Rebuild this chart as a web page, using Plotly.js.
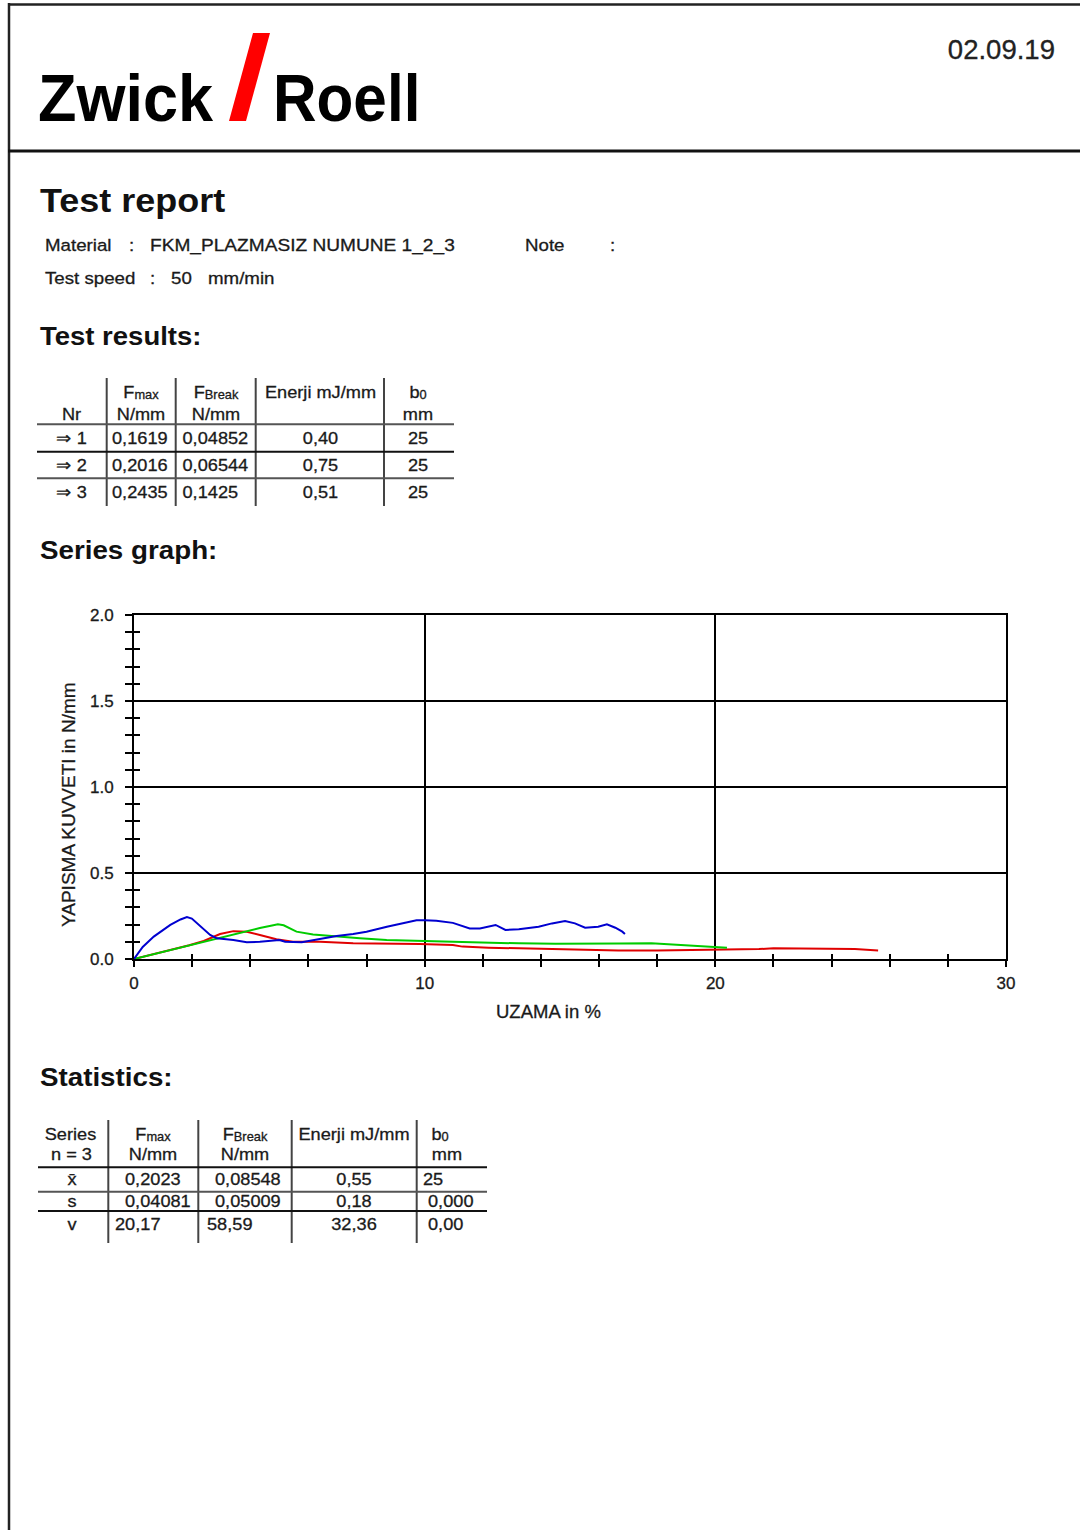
<!DOCTYPE html>
<html>
<head>
<meta charset="utf-8">
<script src="https://cdn.plot.ly/plotly-3.0.1.min.js"></script>
<style>
  html, body { margin: 0; padding: 0; background: #fff; }
  #page { position: relative; width: 1080px; height: 1530px; overflow: hidden; background: #fff; }
  #chart { position: absolute; left: 0; top: 0; width: 1080px; height: 1530px; }
  #overlay { position: absolute; left: 0; top: 0; width: 1080px; height: 1530px; pointer-events: none; }
  #chart .xtick text, #chart .ytick text, #chart .annotation-text { stroke: #1a1a1a; stroke-width: 0.3px; }
</style>
</head>
<body>
<div id="page">
  <div id="chart"></div>
  <svg id="overlay" width="1080" height="1530" xmlns="http://www.w3.org/2000/svg"></svg>
</div>
<script>
// ---------------- DATA ----------------
const reportDate = '02.09.19';
const materialName = 'FKM_PLAZMASIZ NUMUNE 1_2_3';
const testSpeed = '50';
const testSpeedUnit = 'mm/min';

// Test results table
const resultNr     = ['⇒ 1', '⇒ 2', '⇒ 3'];
const resultFmax   = ['0,1619', '0,2016', '0,2435'];
const resultFbreak = ['0,04852', '0,06544', '0,1425'];
const resultEnergy = ['0,40', '0,75', '0,51'];
const resultB0     = ['25', '25', '25'];

// Statistics table
const statLabels = ['x̄', 's', 'v'];
const statFmax   = ['0,2023', '0,04081', '20,17'];
const statFbreak = ['0,08548', '0,05009', '58,59'];
const statEnergy = ['0,55', '0,18', '32,36'];
const statB0     = ['25', '0,000', '0,00'];

// Series graph curves (UZAMA in % vs YAPISMA KUVVETI in N/mm)
const test1Strain = [0, 0.6, 1.25, 1.9, 2.4, 2.96, 3.42, 3.88, 4.33, 4.9, 5.47, 6.4, 7.54, 8.69, 9.83, 10.97, 11.3, 12.2, 13.24, 14.95, 16.0, 16.66, 18.0, 18.94, 19.97, 20.77, 21.5, 22.0, 23.0, 23.95, 24.8, 25.6];
const test1Force  = [0, 0.025, 0.05, 0.08, 0.105, 0.145, 0.162, 0.158, 0.14, 0.115, 0.101, 0.10, 0.091, 0.091, 0.087, 0.081, 0.072, 0.066, 0.062, 0.058, 0.055, 0.049, 0.05, 0.052, 0.052, 0.054, 0.058, 0.062, 0.062, 0.062, 0.058, 0.05];

const test2Strain = [0, 1.25, 2.39, 3.53, 4.33, 4.75, 4.95, 5.15, 5.59, 6.16, 6.97, 7.77, 8.69, 9.83, 10.97, 12.0, 13.24, 14.5, 15.52, 16.7, 17.8, 18.94, 19.97, 20.4];
const test2Force  = [0, 0.052, 0.10, 0.15, 0.18, 0.195, 0.2016, 0.196, 0.159, 0.143, 0.13, 0.12, 0.11, 0.105, 0.097, 0.094, 0.091, 0.089, 0.091, 0.09, 0.091, 0.081, 0.068, 0.066];

const test3Strain = [0, 0.3, 0.68, 1.25, 1.6, 1.82, 1.99, 2.28, 2.62, 2.85, 3.42, 3.88, 4.33, 5.0, 5.2, 5.77, 6.4, 6.97, 7.54, 8.0, 8.7, 9.38, 9.72, 10.0, 10.4, 10.97, 11.55, 11.9, 12.44, 12.78, 13.24, 13.92, 14.38, 14.83, 15.17, 15.52, 15.97, 16.27, 16.56, 16.8, 16.89];
const test3Force  = [0, 0.07, 0.13, 0.198, 0.23, 0.2435, 0.235, 0.19, 0.14, 0.12, 0.11, 0.097, 0.10, 0.11, 0.10, 0.097, 0.115, 0.134, 0.145, 0.159, 0.188, 0.21, 0.225, 0.225, 0.223, 0.21, 0.178, 0.178, 0.198, 0.169, 0.173, 0.188, 0.207, 0.221, 0.207, 0.182, 0.188, 0.202, 0.182, 0.159, 0.145];

const xAxisTitle = 'UZAMA in %';
const yAxisTitle = 'YAPISMA KUVVETI in N/mm';

// ---------------- CHART ----------------
const FONT = '"Liberation Sans", Arial, Helvetica, sans-serif';
const plotL = 134, plotR = 1006, plotT = 615, plotB = 959;
const plotW = plotR - plotL, plotH = plotB - plotT;

const lineStyle = (c) => ({ color: c, width: 2 });
const traces = [
  { x: test1Strain, y: test1Force, mode: 'lines', line: lineStyle('#e00000'), name: '1', hoverinfo: 'skip' },
  { x: test2Strain, y: test2Force, mode: 'lines', line: lineStyle('#00cc00'), name: '2', hoverinfo: 'skip' },
  { x: test3Strain, y: test3Force, mode: 'lines', line: lineStyle('#0000d0'), name: '3', hoverinfo: 'skip' },
  { x: [], y: [], xaxis: 'x2', yaxis: 'y2', mode: 'lines', hoverinfo: 'skip', showlegend: false }
];

const tickFont = { family: FONT, size: 17, color: '#1a1a1a' };
const layout = {
  width: 1080, height: 1530,
  margin: { l: plotL, r: 1080 - plotR, t: plotT, b: 1530 - plotB, pad: 0 },
  paper_bgcolor: 'rgba(0,0,0,0)', plot_bgcolor: 'rgba(0,0,0,0)',
  showlegend: false,
  xaxis: {
    range: [0, 30], tick0: 0, dtick: 10, ticks: 'outside', ticklen: 6, tickwidth: 2, tickcolor: '#000',
    showgrid: true, gridcolor: '#000', gridwidth: 2, zeroline: false,
    showline: true, linecolor: '#000', linewidth: 2, mirror: true,
    tickfont: tickFont, ticklabelstandoff: 2,
    minor: { dtick: 2, tick0: 0, ticks: 'outside', ticklen: 6, tickwidth: 2, tickcolor: '#000', showgrid: false }
  },
  xaxis2: {
    overlaying: 'x', anchor: 'y', side: 'bottom', range: [0, 30], tick0: 0, dtick: 2,
    ticks: 'inside', ticklen: 5, tickwidth: 2, tickcolor: '#000',
    showticklabels: false, showgrid: false, showline: false, zeroline: false
  },
  yaxis: {
    range: [0, 2], tick0: 0, dtick: 0.5, tickformat: '.1f', ticks: 'outside', ticklen: 7, tickwidth: 2, tickcolor: '#000',
    showgrid: true, gridcolor: '#000', gridwidth: 2, zeroline: false,
    showline: true, linecolor: '#000', linewidth: 2, mirror: true,
    tickfont: tickFont, ticklabelstandoff: 8,
    minor: { dtick: 0.1, tick0: 0, ticks: 'outside', ticklen: 7, tickwidth: 2, tickcolor: '#000', showgrid: false }
  },
  yaxis2: {
    overlaying: 'y', anchor: 'x', side: 'left', range: [0, 2], tick0: 0, dtick: 0.1,
    ticks: 'inside', ticklen: 6, tickwidth: 2, tickcolor: '#000',
    showticklabels: false, showgrid: false, showline: false, zeroline: false
  },
  annotations: [
    { text: xAxisTitle, xref: 'paper', yref: 'paper', x: (548 - plotL) / plotW, y: (plotB - 1011) / plotH,
      xanchor: 'center', yanchor: 'middle', showarrow: false, font: { family: FONT, size: 18.5, color: '#1a1a1a' } },
    { text: yAxisTitle, xref: 'paper', yref: 'paper', x: (68 - plotL) / plotW, y: (plotB - 805) / plotH,
      xanchor: 'center', yanchor: 'middle', textangle: -90, showarrow: false, font: { family: FONT, size: 19, color: '#1a1a1a' } }
  ]
};
Plotly.newPlot('chart', traces, layout, { staticPlot: true, displayModeBar: false });

// ---------------- REPORT PAGE (SVG) ----------------
const NS = 'http://www.w3.org/2000/svg';
const svg = document.getElementById('overlay');
function el(tag, attrs) {
  const e = document.createElementNS(NS, tag);
  for (const k in attrs) e.setAttribute(k, attrs[k]);
  svg.appendChild(e);
  return e;
}
function line(x1, y1, x2, y2, w, c) {
  return el('line', { x1, y1, x2, y2, stroke: c || '#000', 'stroke-width': w || 2 });
}
// text: s may contain "F|max" meaning main + subscript
function text(s, x, y, size, o) {
  o = o || {};
  const fill = o.fill || '#1a1a1a';
  const t = el('text', {
    x: 0, y: 0,
    transform: `translate(${x},${y}) scale(${o.sx || 1},1)`,
    'font-family': FONT, 'font-size': size, 'font-weight': o.bold ? 'bold' : 'normal',
    'text-anchor': o.anchor || 'start', fill: fill
  });
  if (!o.bold) { t.setAttribute('stroke', fill); t.setAttribute('stroke-width', o.sw || 0.3); }
  if (o.ls) t.setAttribute('letter-spacing', o.ls);
  if (s.indexOf('|') >= 0) {
    const [a, b] = s.split('|');
    const t1 = document.createElementNS(NS, 'tspan'); t1.textContent = a; t.appendChild(t1);
    const t2 = document.createElementNS(NS, 'tspan');
    t2.setAttribute('font-size', Math.round(size * 0.68));
    t2.setAttribute('dy', 1);
    t2.textContent = b; t.appendChild(t2);
  } else {
    t.textContent = s;
  }
  return t;
}

// page frame
line(9, 3, 9, 1530, 2.5, '#222');
line(8, 4.5, 1080, 4.5, 2.5, '#222');
line(8, 151, 1080, 151, 3, '#111');

// logo
text('Zwick', 38, 121, 66, { bold: true, sx: 0.955, fill: '#000' });
el('polygon', { points: '253,33 270,33 246,121 229,121', fill: '#ff0000' });
text('Roell', 273, 121, 67, { bold: true, sx: 0.9, fill: '#000' });

// date
text(reportDate, 1055, 59, 27, { anchor: 'end', fill: '#222', sx: 1.02 });

// headings & info
const SX = 1.07;
const IX = 1.1;
text('Test report', 40, 212, 33, { bold: true, sx: 1.09, fill: '#111' });
text('Material', 45, 251, 17, { sx: IX });
text(':', 129, 251, 17, { sx: IX });
text(materialName, 150, 251, 17, { sx: 1.125 });
text('Note', 525, 251, 17, { sx: IX });
text(':', 610, 251, 17, { sx: IX });
text('Test speed', 45, 284, 17, { sx: IX });
text(':', 150, 284, 17, { sx: IX });
text(testSpeed, 171, 284, 17, { sx: IX });
text(testSpeedUnit, 208, 284, 17, { sx: IX });

text('Test results:', 40, 345, 25, { bold: true, sx: 1.1, fill: '#111' });
text('Series graph:', 40, 559, 25, { bold: true, sx: 1.11, fill: '#111' });
text('Statistics:', 40, 1086, 25, { bold: true, sx: 1.11, fill: '#111' });

// ---- Test results table ----
(function () {
  const vx = [106.7, 175.7, 255.7, 384];
  vx.forEach(x => line(x, 378, x, 506, 2, '#444'));
  [424.3, 451.7, 478.3].forEach((y, i) => line(37, y, 454, y, 2, i === 1 ? '#111' : '#555'));
  const h1 = ['', 'F|max', 'F|Break', 'Enerji mJ/mm', 'b|0'];
  const h2 = ['Nr', 'N/mm', 'N/mm', '', 'mm'];
  const hc = [71.5, 141, 216, 320.5, 418];
  h1.forEach((s, i) => s && text(s, hc[i], 398, 17, { anchor: 'middle', sx: SX }));
  h2.forEach((s, i) => s && text(s, hc[i], 420, 17, { anchor: 'middle', sx: SX }));
  const rowY = [444, 471, 498];
  const anchors = [
    { a: 'middle', x: 71.5 }, { a: 'start', x: 112 }, { a: 'start', x: 182.5 },
    { a: 'middle', x: 320.5 }, { a: 'middle', x: 418 }
  ];
  const cols = [resultNr, resultFmax, resultFbreak, resultEnergy, resultB0];
  cols.forEach((col, c) => col.forEach((v, r) =>
    text(v, anchors[c].x, rowY[r], 17, { anchor: anchors[c].a, sx: SX })));
})();

// ---- Statistics table ----
(function () {
  const vx = [108.3, 198.3, 291.7, 416.7];
  vx.forEach(x => line(x, 1120, x, 1243, 2, '#444'));
  [1167.3, 1191.7, 1211].forEach((y, i) => line(38, y, 487, y, 2, i === 1 ? '#555' : '#111'));
  const h1 = ['Series', 'F|max', 'F|Break', 'Enerji mJ/mm', 'b|0'];
  const h2 = ['n = 3', 'N/mm', 'N/mm', '', 'mm'];
  const hc1 = [70.5, 153, 245, 354, 440];
  const hc2 = [71.5, 153, 245, 354, 447];
  h1.forEach((s, i) => s && text(s, hc1[i], 1140, 17, { anchor: 'middle', sx: SX }));
  h2.forEach((s, i) => s && text(s, hc2[i], 1160, 17, { anchor: 'middle', sx: SX }));
  const rowY = [1185, 1207, 1230];
  const cellPos = [
    [{ a: 'middle', x: 72 }, { a: 'start', x: 125 }, { a: 'start', x: 215 }, { a: 'middle', x: 354 }, { a: 'start', x: 423 }],
    [{ a: 'middle', x: 72 }, { a: 'start', x: 125 }, { a: 'start', x: 215 }, { a: 'middle', x: 354 }, { a: 'start', x: 428 }],
    [{ a: 'middle', x: 72 }, { a: 'start', x: 115 }, { a: 'start', x: 207 }, { a: 'middle', x: 354 }, { a: 'start', x: 428 }]
  ];
  const cols = [statLabels, statFmax, statFbreak, statEnergy, statB0];
  cols.forEach((col, c) => col.forEach((v, r) =>
    text(v, cellPos[r][c].x, rowY[r], 17, { anchor: cellPos[r][c].a, sx: SX })));
})();
</script>
</body>
</html>
